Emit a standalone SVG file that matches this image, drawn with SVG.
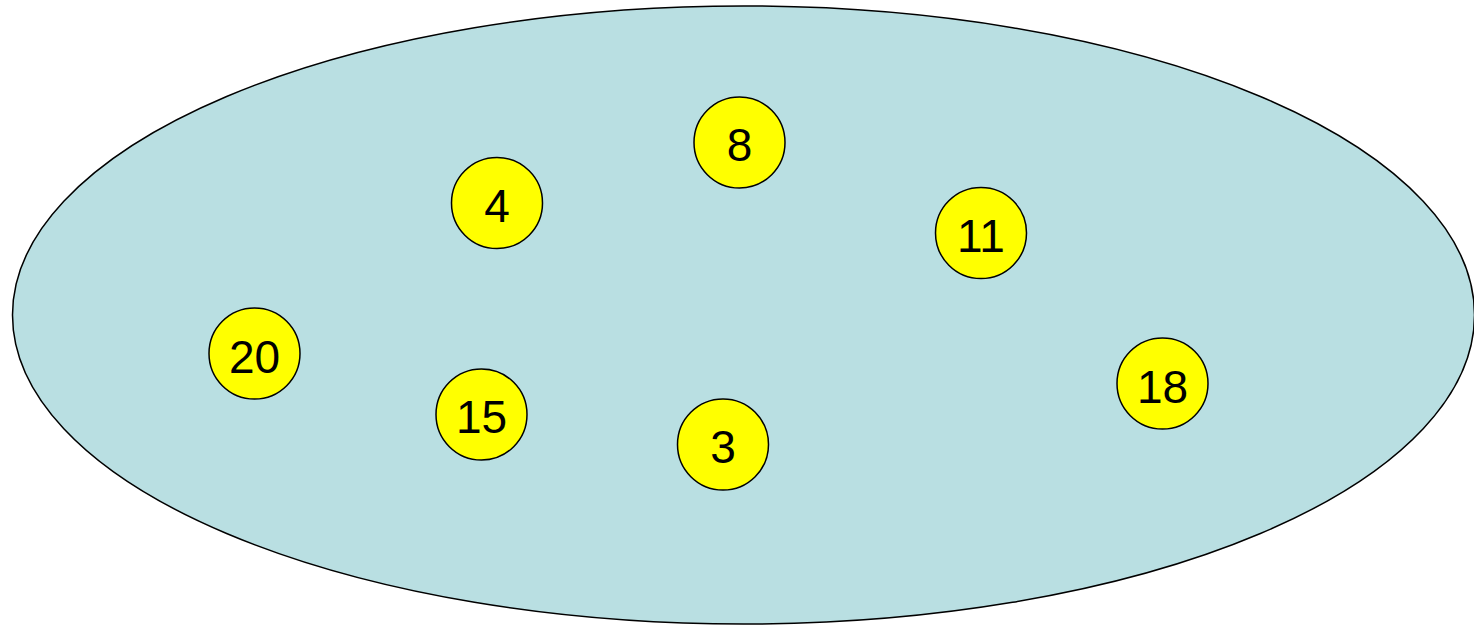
<svg xmlns="http://www.w3.org/2000/svg" width="1474" height="626" viewBox="0 0 1474 626">
<style>
.bg{fill:#B9DFE2;stroke:#000;stroke-width:1.5}
.n circle{fill:#FFFF00;stroke:#000;stroke-width:1.5}
.n text{font-family:"Liberation Sans",Arial,sans-serif;font-size:46px;fill:#000;text-anchor:middle}
</style>
<rect width="1474" height="626" fill="#FFFFFF"/>
<ellipse id="set" class="bg" cx="743.5" cy="315" rx="731" ry="309"/>
<g id="connectors"></g>
<g id="n8" class="n"><circle cx="739.5" cy="142.5" r="45.5"/><text x="739.5" y="161">8</text></g>
<g id="n4" class="n"><circle cx="497" cy="203" r="45.5"/><text x="497" y="221.5">4</text></g>
<g id="n11" class="n"><circle cx="981" cy="233" r="45.5"/><text x="981" y="251.5">11</text></g>
<g id="n20" class="n"><circle cx="254.5" cy="353.5" r="45.5"/><text x="254.5" y="372.5">20</text></g>
<g id="n15" class="n"><circle cx="481.5" cy="414.5" r="45.5"/><text x="481.5" y="432.5">15</text></g>
<g id="n3" class="n"><circle cx="723" cy="444.5" r="45.5"/><text x="723" y="463">3</text></g>
<g id="n18" class="n"><circle cx="1162.5" cy="383.5" r="45.5"/><text x="1162.5" y="402.5">18</text></g>
</svg>
